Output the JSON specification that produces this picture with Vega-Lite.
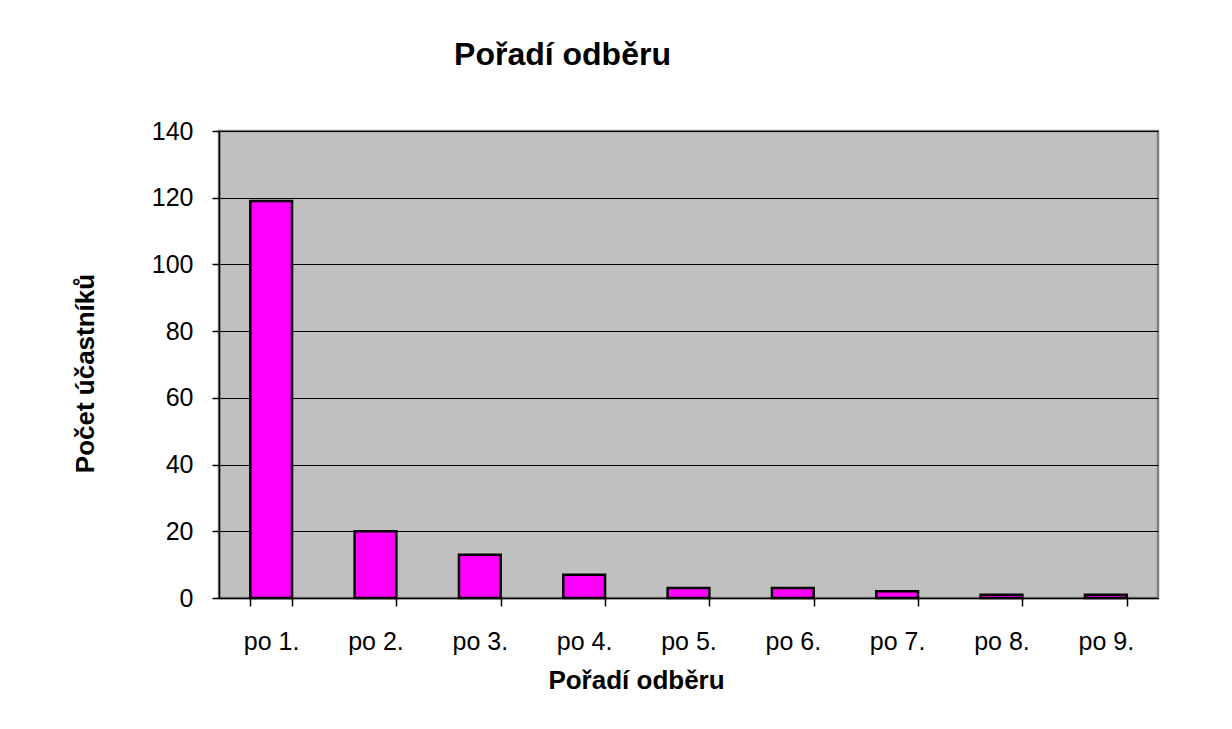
{
  "$schema": "https://vega.github.io/schema/vega-lite/v6.json",
  "width": 939,
  "height": 467,
  "autosize": {"type": "none"},
  "padding": {"left": 219, "top": 131, "right": 74, "bottom": 131},
  "background": "white",
  "title": {
    "text": "Pořadí odběru",
    "font": "Liberation Sans",
    "fontSize": 32,
    "fontWeight": "bold",
    "color": "black",
    "anchor": "middle",
    "frame": "group",
    "baseline": "alphabetic",
    "offset": 64,
    "dx": -126,
    "dy": 42
  },
  "data": {
    "values": [
      {"kategorie": "po 1.", "pocet": 119},
      {"kategorie": "po 2.", "pocet": 20},
      {"kategorie": "po 3.", "pocet": 13},
      {"kategorie": "po 4.", "pocet": 7},
      {"kategorie": "po 5.", "pocet": 3},
      {"kategorie": "po 6.", "pocet": 3},
      {"kategorie": "po 7.", "pocet": 2},
      {"kategorie": "po 8.", "pocet": 1},
      {"kategorie": "po 9.", "pocet": 1}
    ]
  },
  "mark": {"type": "bar", "fill": "#FF00FF", "stroke": "black", "strokeWidth": 2.5},
  "encoding": {
    "x": {
      "field": "kategorie",
      "type": "ordinal",
      "sort": null,
      "scale": {"paddingInner": 0.6, "paddingOuter": 0.3},
      "axis": {
        "title": "Pořadí odběru",
        "labelAngle": 0,
        "tickBand": "extent",
        "tickSize": 8,
        "labelPadding": 23,
        "grid": false,
        "titleX": 417,
        "titleY": 90,
        "titleBaseline": "alphabetic"
      }
    },
    "y": {
      "field": "pocet",
      "type": "quantitative",
      "scale": {"domain": [0, 140], "nice": false},
      "axis": {
        "title": "Počet účastníků",
        "values": [0, 20, 40, 60, 80, 100, 120, 140],
        "tickSize": 7,
        "labelPadding": 19,
        "grid": true,
        "gridColor": "black",
        "gridOpacity": 1,
        "gridWidth": 1,
        "titleX": -126,
        "titleY": 242,
        "titleBaseline": "alphabetic"
      }
    }
  },
  "config": {
    "view": {"fill": "#C0C0C0", "stroke": "#808080", "strokeWidth": 2.5},
    "axis": {
      "domainColor": "black",
      "domainWidth": 1.5,
      "tickColor": "black",
      "tickWidth": 1.5,
      "labelFont": "Liberation Sans",
      "labelFontSize": 25,
      "labelColor": "black",
      "titleFont": "Liberation Sans",
      "titleFontSize": 26,
      "titleFontWeight": "bold",
      "titleColor": "black"
    }
  }
}
